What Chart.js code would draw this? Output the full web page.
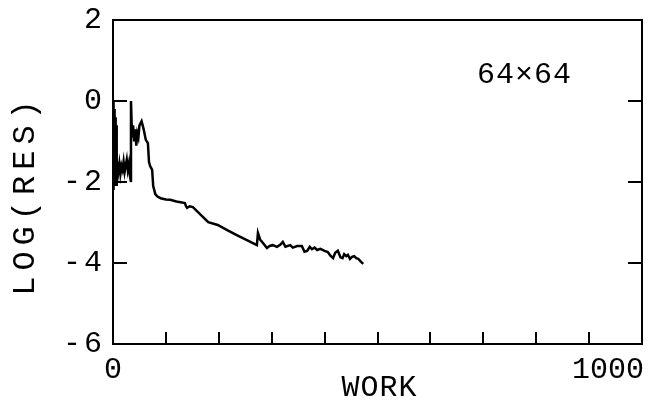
<!DOCTYPE html>
<html>
<head>
<meta charset="utf-8">
<script src="https://cdn.jsdelivr.net/npm/chart.js@4.4.0/dist/chart.umd.min.js"></script>
<style>
  html, body { margin: 0; padding: 0; background: #fff; }
  #wrap { width: 657px; height: 407px; }
</style>
</head>
<body>
<div id="wrap"><canvas id="resChart" width="657" height="407"></canvas></div>
<script>
// Datos (trabajo vs log del residuo)
const workX = [0, 0.5, 1, 1.5, 2, 2.5, 3, 3.5, 4, 4.5, 5, 5.5, 6, 6.5, 7, 7.5, 8,
  10, 12, 14, 16, 18, 20, 22, 24, 26, 28, 30, 32, 34, 34,
  36, 38, 40, 42, 44, 46, 48, 50, 54, 58, 62, 66, 68, 70, 74, 76, 80, 84, 90, 100, 108, 120, 136, 138, 140,
  145, 151, 165, 180, 198, 215, 234, 255, 272, 274, 278, 282, 291, 296, 302, 310, 316, 321, 326, 335, 340,
  348, 357, 362, 367, 372, 376, 381, 386, 392, 400, 406, 411, 416, 420, 425, 430, 434, 437, 441, 444, 448,
  452, 456, 460, 464, 468, 473];
const logRes = [0, -2.1, -0.3, -2.2, -0.2, -1.9, -0.5, -2.1, -0.4, -2.0, -0.8, -2.05, -0.6, -2.1, -1.0, -1.9, -1.5,
  -1.75, -1.55, -1.8, -1.6, -1.7, -1.5, -1.75, -1.6, -1.45, -1.7, -1.55, -1.85, -2.0, 0,
  -0.9, -0.6, -1.0, -0.7, -1.1, -0.8, -0.9, -0.6, -0.5, -0.7, -0.96, -1.04, -1.5, -1.6, -1.7, -2.1, -2.3,
  -2.36, -2.4, -2.43, -2.44, -2.48, -2.52, -2.6, -2.64, -2.6, -2.62, -2.8, -2.99, -3.06, -3.18, -3.31,
  -3.45, -3.56, -3.26, -3.42, -3.48, -3.63, -3.58, -3.56, -3.6, -3.55, -3.48, -3.6, -3.56, -3.62, -3.58,
  -3.58, -3.72, -3.7, -3.6, -3.66, -3.62, -3.68, -3.65, -3.7, -3.73, -3.82, -3.88, -3.75, -3.7, -3.86,
  -3.88, -3.78, -3.83, -3.8, -3.9, -3.85, -3.83, -3.88, -3.9, -3.96, -4.02];

const xTickValues = [0, 100, 200, 300, 400, 500, 600, 700, 800, 900, 1000];
const xTickLabels = ['0', '', '', '', '', '', '', '', '', '', '1000'];
const yTickValues = [2, 0, -2, -4, -6];
const yInnerTicks = [0, -2, -4];

const xTitle = 'WORK';
const yTitle = 'LOG(RES)';
const gridLabel = '64×64';

const FONT = '"Liberation Mono", "DejaVu Sans Mono", monospace';

const framePlugin = {
    id: 'frame',
    beforeDraw(chart) {
        chart.ctx.letterSpacing = '3px';
    },
    afterDraw(chart) {
        const { ctx, chartArea: a, scales: { x, y } } = chart;
        ctx.save();
        ctx.strokeStyle = '#000';
        ctx.fillStyle = '#000';
        ctx.lineWidth = 2;
        ctx.strokeRect(a.left, a.top, a.right - a.left, a.bottom - a.top);

        // marcas hacia adentro
        ctx.beginPath();
        xTickValues.slice(1, -1).forEach(v => {
            const px = Math.round(x.getPixelForValue(v));
            ctx.moveTo(px, a.bottom);
            ctx.lineTo(px, a.bottom - 12);
        });
        yInnerTicks.forEach(v => {
            const py = Math.round(y.getPixelForValue(v));
            ctx.moveTo(a.left, py);
            ctx.lineTo(a.left + 14, py);
            ctx.moveTo(a.right, py);
            ctx.lineTo(a.right - 14, py);
        });
        ctx.stroke();

        // etiquetas del eje x
        ctx.font = '30px ' + FONT;
        ctx.letterSpacing = '0px';
        ctx.textBaseline = 'middle';
        xTickValues.forEach((v, i) => {
            const txt = xTickLabels[i];
            if (!txt) return;
            const px = x.getPixelForValue(v);
            if (i === xTickValues.length - 1) {
                ctx.textAlign = 'right';
                ctx.fillText(txt, px + 2, a.bottom + 26);
            } else {
                ctx.textAlign = 'center';
                ctx.fillText(txt, px, a.bottom + 26);
            }
        });

        // títulos
        ctx.font = '30px ' + FONT;
        ctx.letterSpacing = '1px';
        ctx.textAlign = 'center';
        ctx.fillText(xTitle, (a.left + a.right) / 2 + 2, a.bottom + 44);

        ctx.save();
        ctx.translate(26, 198);
        ctx.rotate(-Math.PI / 2);
        ctx.font = '32px ' + FONT;
        ctx.letterSpacing = '6px';
        ctx.fillText(yTitle, 3, 0);
        ctx.restore();

        ctx.font = '30px ' + FONT;
        ctx.letterSpacing = '1px';
        ctx.fillText(gridLabel, x.getPixelForValue(778), y.getPixelForValue(0.65));
        ctx.restore();
    }
};

document.addEventListener('DOMContentLoaded', function() {
    const ctx = document.getElementById('resChart');

    new Chart(ctx, {
        type: 'line',
        data: {
            datasets: [{
                data: workX.map((v, i) => ({ x: v, y: logRes[i] })),
                borderColor: '#000',
                borderWidth: 2.5,
                pointRadius: 0,
                tension: 0
            }]
        },
        options: {
            responsive: false,
            animation: false,
            events: [],
            layout: { padding: { top: 20, right: 15, left: 0, bottom: 0 } },
            plugins: {
                legend: { display: false },
                tooltip: { enabled: false }
            },
            scales: {
                x: {
                    type: 'linear',
                    min: 0,
                    max: 1000,
                    afterBuildTicks: s => { s.ticks = xTickValues.map(v => ({ value: v })); },
                    ticks: { display: false },
                    grid: { display: false },
                    border: { display: false },
                    afterFit: s => { s.height = 63; s.paddingLeft = 0; s.paddingRight = 0; }
                },
                y: {
                    min: -6,
                    max: 2,
                    afterBuildTicks: s => { s.ticks = yTickValues.map(v => ({ value: v })); },
                    ticks: {
                        color: '#000',
                        padding: 8,
                        font: { family: FONT, size: 30 },
                        callback: v => String(v)
                    },
                    grid: { display: false, drawTicks: false },
                    border: { display: false },
                    afterFit: s => { s.width = 113; s.paddingTop = 0; s.paddingBottom = 0; }
                }
            }
        },
        plugins: [framePlugin]
    });
});
</script>
</body>
</html>
